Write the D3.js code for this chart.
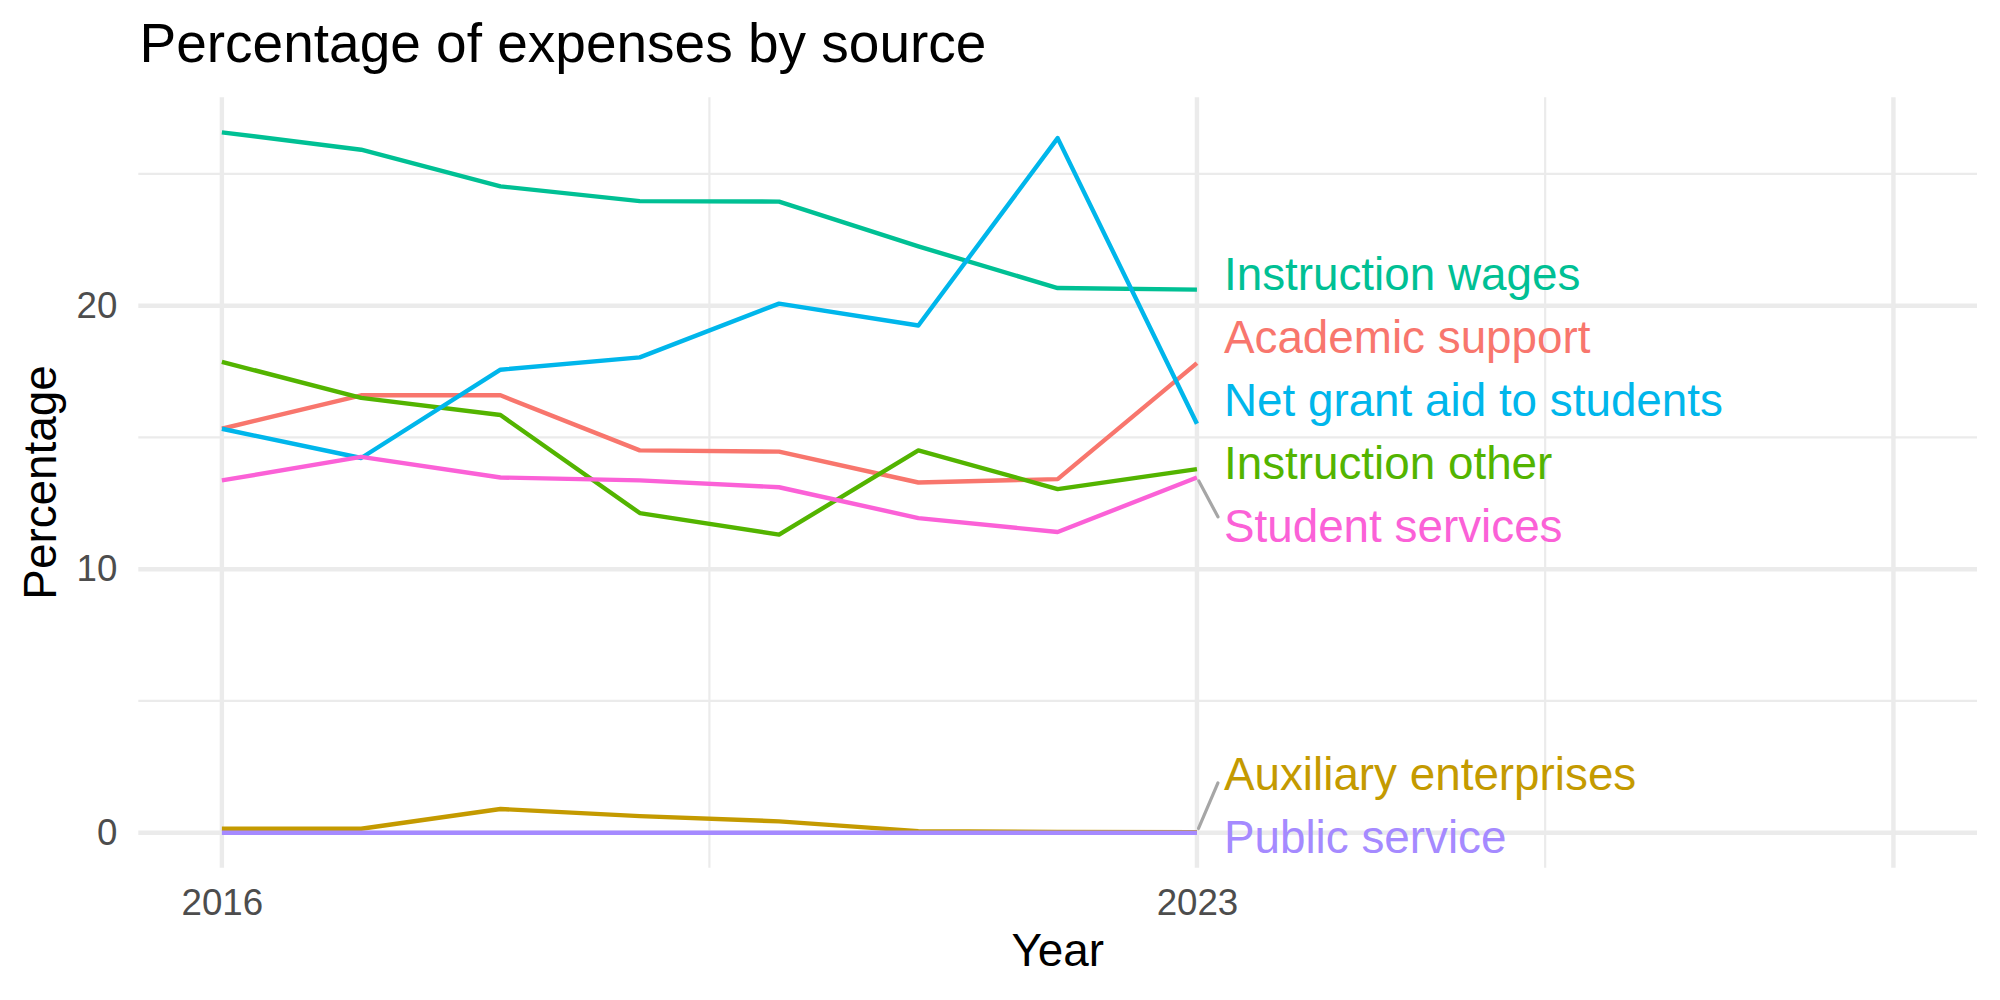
<!DOCTYPE html>
<html>
<head>
<meta charset="utf-8">
<script src="https://cdn.jsdelivr.net/npm/d3@7"></script>
<style>
  body { margin: 0; background: #fff; }
  text { font-family: "Liberation Sans", Arial, sans-serif; }
</style>
</head>
<body>
<div id="chart"></div>
<script>
// data
const years = [2016, 2017, 2018, 2019, 2020, 2021, 2022, 2023];
const sourceNames = ["Academic support", "Auxiliary enterprises", "Instruction other",
  "Instruction wages", "Net grant aid to students", "Public service", "Student services"];
const academicSupport = [15.33, 16.60, 16.60, 14.51, 14.46, 13.29, 13.42, 17.82];
const auxiliaryEnterprises = [0.15, 0.15, 0.90, 0.63, 0.43, 0.06, 0.03, 0.02];
const instructionOther = [17.87, 16.50, 15.85, 12.13, 11.31, 14.51, 13.04, 13.80];
const instructionWages = [26.58, 25.92, 24.53, 23.97, 23.95, 22.25, 20.67, 20.61];
const netGrantAid = [15.33, 14.22, 17.57, 18.04, 20.08, 19.25, 26.36, 15.52];
const publicService = [0, 0, 0, 0, 0, 0, 0, 0];
const studentServices = [13.37, 14.26, 13.48, 13.37, 13.11, 11.94, 11.41, 13.48];
const sourceColors = ["#F8766D", "#C49A00", "#53B400", "#00C094", "#00B6EB", "#A58AFF", "#FB61D7"];

const xLimits = [2016, 2028];
const xBreaks = [2016, 2023, 2028];
const xTickLabels = ["2016", "2023", ""];
const yBreaks = [0, 10, 20];

const seriesValues = [academicSupport, auxiliaryEnterprises, instructionOther,
  instructionWages, netGrantAid, publicService, studentServices];
const series = sourceNames.map((name, i) => ({
  name: name,
  color: sourceColors[i],
  values: years.map((yr, j) => ({year: yr, value: seriesValues[i][j]}))
}));

// page / panel dimensions
const W = 2000, H = 1000;
const panel = {left: 138.3, right: 1977, top: 97.3, bottom: 867.7};
const grey = "#EBEBEB";

const svg = d3.select("#chart").append("svg")
    .attr("width", W)
    .attr("height", H);

svg.append("rect").attr("width", W).attr("height", H).attr("fill", "#fff");

// scales with ggplot-like 5% expansion
const xSpan = xLimits[1] - xLimits[0];
const x = d3.scaleLinear()
    .domain([xLimits[0] - 0.05 * xSpan, xLimits[1] + 0.05 * xSpan])
    .range([panel.left, panel.right]);

const yMin = d3.min(seriesValues, s => d3.min(s));
const yMax = d3.max(seriesValues, s => d3.max(s));
const ySpan = yMax - yMin;
const y = d3.scaleLinear()
    .domain([yMin - 0.05 * ySpan, yMax + 0.05 * ySpan])
    .range([panel.bottom, panel.top]);

// minor breaks: midpoints between the major ones
const xMinor = d3.pairs(xBreaks).map(p => (p[0] + p[1]) / 2);
const yMinor = [5, 15, 25];

const grid = svg.append("g");
grid.selectAll(".ymin").data(yMinor).join("line")
    .attr("x1", panel.left).attr("x2", panel.right)
    .attr("y1", d => y(d)).attr("y2", d => y(d))
    .attr("stroke", grey).attr("stroke-width", 2.2);
grid.selectAll(".xmin").data(xMinor).join("line")
    .attr("y1", panel.top).attr("y2", panel.bottom)
    .attr("x1", d => x(d)).attr("x2", d => x(d))
    .attr("stroke", grey).attr("stroke-width", 2.2);
grid.selectAll(".ymaj").data(yBreaks).join("line")
    .attr("x1", panel.left).attr("x2", panel.right)
    .attr("y1", d => y(d)).attr("y2", d => y(d))
    .attr("stroke", grey).attr("stroke-width", 4.4);
grid.selectAll(".xmaj").data(xBreaks).join("line")
    .attr("y1", panel.top).attr("y2", panel.bottom)
    .attr("x1", d => x(d)).attr("x2", d => x(d))
    .attr("stroke", grey).attr("stroke-width", 4.4);

// axes text (no ticks / domain, like theme_minimal)
const yAxis = svg.append("g")
    .attr("transform", `translate(${panel.left}, 0)`)
    .call(d3.axisLeft(y).tickValues(yBreaks).tickSize(0).tickPadding(21));
yAxis.select(".domain").remove();
yAxis.selectAll("text")
    .attr("font-size", 36.7)
    .attr("fill", "#4D4D4D")
    .attr("font-family", "Liberation Sans, Arial, sans-serif");

const xAxis = svg.append("g")
    .attr("transform", `translate(0, ${panel.bottom})`)
    .call(d3.axisBottom(x).tickValues(xBreaks)
        .tickFormat((d, i) => xTickLabels[i]).tickSize(0).tickPadding(21));
xAxis.select(".domain").remove();
xAxis.selectAll("text")
    .attr("font-size", 36.7)
    .attr("fill", "#4D4D4D")
    .attr("font-family", "Liberation Sans, Arial, sans-serif");

// titles
svg.append("text")
    .attr("x", 139.5).attr("y", 62)
    .attr("font-size", 55)
    .text("Percentage of expenses by source");

svg.append("text")
    .attr("x", (panel.left + panel.right) / 2).attr("y", 966)
    .attr("text-anchor", "middle")
    .attr("font-size", 45.8)
    .text("Year");

svg.append("text")
    .attr("transform", `translate(55.5, ${(panel.top + panel.bottom) / 2}) rotate(-90)`)
    .attr("text-anchor", "middle")
    .attr("font-size", 45.8)
    .text("Percentage");

// lines
const line = d3.line()
    .x(d => x(d.year))
    .y(d => y(d.value));

svg.append("g").selectAll("path").data(series).join("path")
    .attr("d", d => line(d.values))
    .attr("fill", "none")
    .attr("stroke", d => d.color)
    .attr("stroke-width", 4.4)
    .attr("stroke-linejoin", "round");

// end labels, pushed apart like ggrepel
const lastYear = years[years.length - 1];
const spacing = 63;
const minC = panel.top + 26, maxC = panel.bottom - 26;
const nodes = series.map(s => ({s: s, target: y(s.values[s.values.length - 1].value)}))
    .sort((a, b) => a.target - b.target);

function place(c) {
  const n = c.items.length;
  let start = c.mean - (n - 1) / 2 * spacing;
  start = Math.max(minC, Math.min(maxC - (n - 1) * spacing, start));
  c.start = start;
}
let clusters = nodes.map(n => ({items: [n], mean: n.target}));
clusters.forEach(place);
let merged = true;
while (merged) {
  merged = false;
  for (let i = 0; i < clusters.length - 1; i++) {
    const a = clusters[i], b = clusters[i + 1];
    if (a.start + a.items.length * spacing > b.start) {
      const items = a.items.concat(b.items);
      const c = {items: items, mean: d3.mean(items, d => d.target)};
      place(c);
      clusters.splice(i, 2, c);
      merged = true;
      break;
    }
  }
}
clusters.forEach(c => c.items.forEach((n, k) => { n.pos = c.start + k * spacing; }));

const textX = x(lastYear) + 27;
const labels = svg.append("g");

nodes.forEach(n => {
  const px = x(lastYear), py = n.target;
  const cy = n.pos - 4.8;  // centre of the capitals
  const dy = Math.max(0, (cy - 16.4) - py, py - (cy + 16.4));
  const dist = Math.hypot(textX - px, dy);
  if (dist > 35) {
    const ex = textX - 6, ey = cy + Math.sign(py - cy) * 9;
    const len = Math.hypot(ex - px, ey - py);
    const sx = px + (ex - px) / len * 4, sy = py + (ey - py) / len * 4;
    labels.append("line")
        .attr("x1", sx).attr("y1", sy).attr("x2", ex).attr("y2", ey)
        .attr("stroke", "#A6A6A6").attr("stroke-width", 3.2)
        .attr("stroke-linecap", "round");
  }
  labels.append("text")
      .attr("x", textX).attr("y", n.pos + 11.6)
      .attr("font-size", 45.8)
      .attr("fill", n.s.color)
      .text(n.s.name);
});
</script>
</body>
</html>
